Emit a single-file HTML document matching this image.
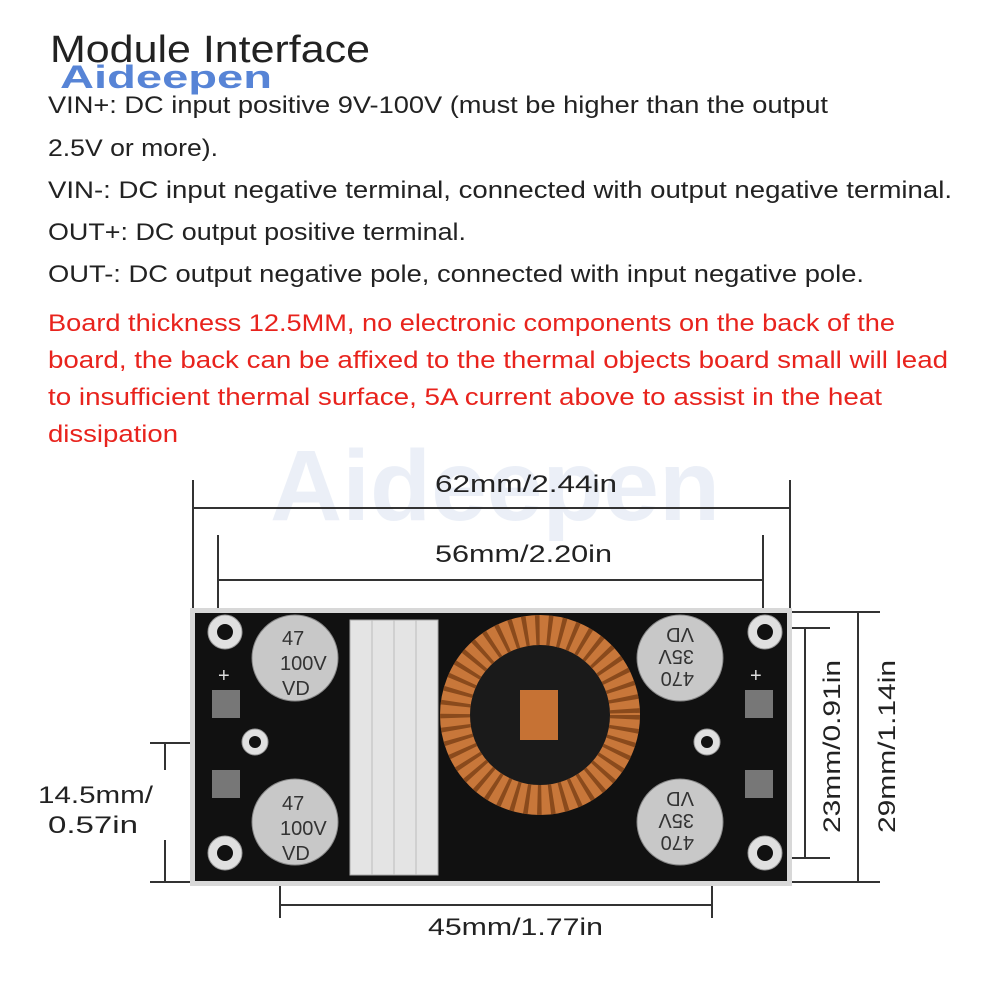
<!DOCTYPE html>
<html><head><meta charset="utf-8"><style>
body{margin:0;background:#fff;width:1000px;height:1000px;overflow:hidden;font-family:"Liberation Sans",sans-serif}
</style></head><body>
<svg width="1000" height="1000" viewBox="0 0 1000 1000" xmlns="http://www.w3.org/2000/svg" font-family="Liberation Sans, sans-serif">
<rect width="1000" height="1000" fill="#fff"/>
<text x="50" y="62" font-size="38" fill="#222" textLength="320" lengthAdjust="spacingAndGlyphs">Module Interface</text>
<text x="60" y="88" font-size="32" font-weight="bold" fill="#3a6fd0" opacity="0.85" textLength="212" lengthAdjust="spacingAndGlyphs">Aideepen</text>
<g font-size="24" fill="#222" lengthAdjust="spacingAndGlyphs">
<text x="48" y="113" textLength="780" lengthAdjust="spacingAndGlyphs">VIN+: DC input positive 9V-100V (must be higher than the output</text>
<text x="48" y="156" textLength="170" lengthAdjust="spacingAndGlyphs">2.5V or more).</text>
<text x="48" y="198" textLength="904" lengthAdjust="spacingAndGlyphs">VIN-: DC input negative terminal, connected with output negative terminal.</text>
<text x="48" y="240" textLength="418" lengthAdjust="spacingAndGlyphs">OUT+: DC output positive terminal.</text>
<text x="48" y="282" textLength="816" lengthAdjust="spacingAndGlyphs">OUT-: DC output negative pole, connected with input negative pole.</text>
</g>
<g font-size="24" fill="#e8231d">
<text x="48" y="331" textLength="847" lengthAdjust="spacingAndGlyphs">Board thickness 12.5MM, no electronic components on the back of the</text>
<text x="48" y="368" textLength="900" lengthAdjust="spacingAndGlyphs">board, the back can be affixed to the thermal objects board small will lead</text>
<text x="48" y="405" textLength="834" lengthAdjust="spacingAndGlyphs">to insufficient thermal surface, 5A current above to assist in the heat</text>
<text x="48" y="442" textLength="130" lengthAdjust="spacingAndGlyphs">dissipation</text>
</g>
<text x="270" y="520" font-size="100" font-weight="bold" fill="#dfe6f2" opacity="0.6">Aideepen</text>
<g stroke="#333" stroke-width="2" fill="none">
<line x1="193" y1="480" x2="193" y2="610"/><line x1="790" y1="480" x2="790" y2="610"/>
<line x1="193" y1="508" x2="790" y2="508"/>
<line x1="218" y1="535" x2="218" y2="610"/><line x1="763" y1="535" x2="763" y2="610"/>
<line x1="218" y1="580" x2="763" y2="580"/>
<line x1="280" y1="870" x2="280" y2="918"/><line x1="712" y1="870" x2="712" y2="918"/>
<line x1="280" y1="905" x2="712" y2="905"/>
<line x1="770" y1="628" x2="830" y2="628"/><line x1="770" y1="858" x2="830" y2="858"/>
<line x1="805" y1="628" x2="805" y2="858"/>
<line x1="790" y1="612" x2="880" y2="612"/><line x1="790" y1="882" x2="880" y2="882"/>
<line x1="858" y1="612" x2="858" y2="882"/>
<line x1="150" y1="743" x2="195" y2="743"/><line x1="150" y1="882" x2="195" y2="882"/>
<line x1="165" y1="743" x2="165" y2="770"/><line x1="165" y1="840" x2="165" y2="882"/>
</g>
<g font-size="24" fill="#222">
<text x="435" y="492" textLength="182" lengthAdjust="spacingAndGlyphs">62mm/2.44in</text>
<text x="435" y="562" textLength="177" lengthAdjust="spacingAndGlyphs">56mm/2.20in</text>
<text x="428" y="935" textLength="175" lengthAdjust="spacingAndGlyphs">45mm/1.77in</text>
<text x="38" y="803" textLength="115" lengthAdjust="spacingAndGlyphs">14.5mm/</text>
<text x="48" y="833" textLength="90" lengthAdjust="spacingAndGlyphs">0.57in</text>
<text transform="translate(840,833) rotate(-90)" textLength="173" lengthAdjust="spacingAndGlyphs">23mm/0.91in</text>
<text transform="translate(895,833) rotate(-90)" textLength="173" lengthAdjust="spacingAndGlyphs">29mm/1.14in</text>
</g>
<rect x="190" y="608" width="602" height="278" fill="#d8d8d8"/>
<rect x="195" y="613" width="592" height="268" fill="#111"/>
<g fill="#e0e0e0" stroke="#999">
<circle cx="225" cy="632" r="17"/><circle cx="225" cy="853" r="17"/>
<circle cx="765" cy="632" r="17"/><circle cx="765" cy="853" r="17"/>
<circle cx="255" cy="742" r="13"/><circle cx="707" cy="742" r="13"/>
</g>
<g fill="#111"><circle cx="225" cy="632" r="8"/><circle cx="225" cy="853" r="8"/><circle cx="765" cy="632" r="8"/><circle cx="765" cy="853" r="8"/><circle cx="255" cy="742" r="6"/><circle cx="707" cy="742" r="6"/></g>
<g fill="#c8c8c8" stroke="#888"><circle cx="295" cy="658" r="43"/><circle cx="295" cy="822" r="43"/><circle cx="680" cy="658" r="43"/><circle cx="680" cy="822" r="43"/></g>
<g font-size="20" fill="#333"><text x="282" y="645">47</text><text x="280" y="670">100V</text><text x="282" y="695">VD</text>
<text x="282" y="810">47</text><text x="280" y="835">100V</text><text x="282" y="860">VD</text></g>
<g font-size="20" fill="#333"><text transform="translate(680,658) rotate(180)" x="-14" y="-14">470</text><text transform="translate(680,658) rotate(180)" x="-14" y="8">35V</text><text transform="translate(680,658) rotate(180)" x="-14" y="30">VD</text>
<text transform="translate(680,822) rotate(180)" x="-14" y="-14">470</text><text transform="translate(680,822) rotate(180)" x="-14" y="8">35V</text><text transform="translate(680,822) rotate(180)" x="-14" y="30">VD</text></g>
<rect x="350" y="620" width="88" height="255" fill="#e4e4e4" stroke="#aaa"/>
<g stroke="#bbb"><line x1="372" y1="620" x2="372" y2="875"/><line x1="394" y1="620" x2="394" y2="875"/><line x1="416" y1="620" x2="416" y2="875"/></g>
<circle cx="540" cy="715" r="95" fill="#1a1a1a"/>
<circle cx="540" cy="715" r="85" fill="none" stroke="#c8773a" stroke-width="30"/>
<circle cx="540" cy="715" r="85" fill="none" stroke="#8a4a1c" stroke-width="30" stroke-dasharray="4 8"/>
<rect x="520" y="690" width="38" height="50" fill="#c67234"/>
<g fill="#777"><rect x="212" y="690" width="28" height="28"/><rect x="212" y="770" width="28" height="28"/><rect x="745" y="690" width="28" height="28"/><rect x="745" y="770" width="28" height="28"/></g>
<text x="218" y="682" font-size="20" fill="#ddd">+</text>
<text x="750" y="682" font-size="20" fill="#ddd">+</text>
</svg>
</body></html>
